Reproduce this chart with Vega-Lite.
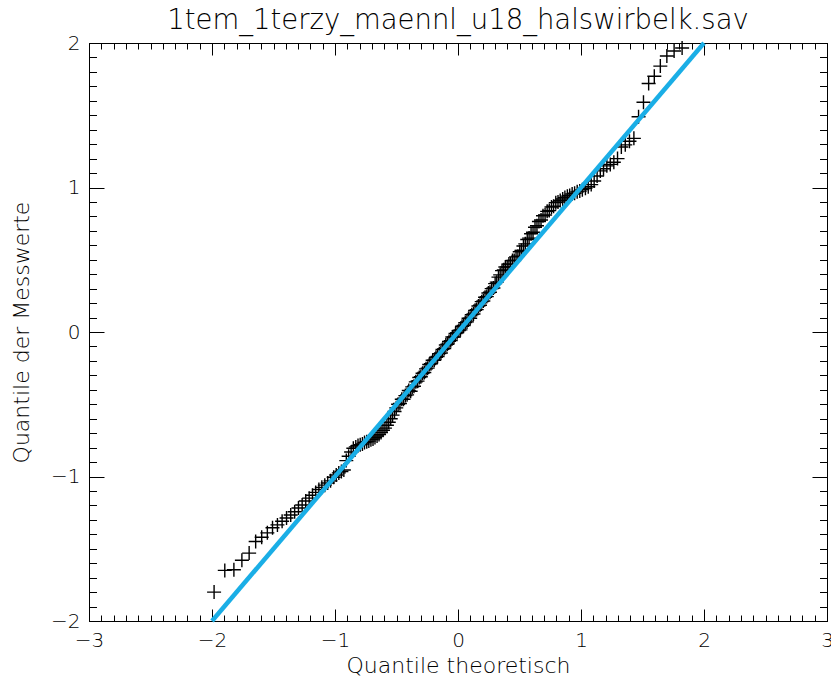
{
  "$schema": "https://vega.github.io/schema/vega-lite/v6.json",
  "width": 738,
  "height": 578,
  "autosize": {"type": "none"},
  "padding": {"left": 89, "top": 43, "right": 4, "bottom": 59},
  "background": "white",
  "title": {"text": "1tem_1terzy_maennl_u18_halswirbelk.sav", "fontSize": 27.5, "font": "DejaVu Sans", "fontWeight": 200, "color": "black", "offset": 15, "baseline": "alphabetic", "anchor": "middle", "frame": "group", "dy": 38},
  "config": {
    "view": {"stroke": "black", "strokeWidth": 1},
    "axis": {"grid": false, "minExtent": 0, "domainColor": "black", "domainWidth": 1, "tickColor": "black", "tickWidth": 1, "labelColor": "black", "labelFont": "DejaVu Sans", "labelFontWeight": 200, "labelFontSize": 20, "titleFont": "DejaVu Sans", "titleFontWeight": 200, "titleFontSize": 22, "titleColor": "black", "labelFlush": false, "labelOverlap": false}
  },
  "layer": [
    {
      "data": {"values": [
        {"theo": -1.983, "mess": -1.80}, {"theo": -1.896, "mess": -1.65}, {"theo": -1.822, "mess": -1.645}, {"theo": -1.757, "mess": -1.58}, {"theo": -1.698, "mess": -1.53},
        {"theo": -1.645, "mess": -1.45}, {"theo": -1.596, "mess": -1.42}, {"theo": -1.550, "mess": -1.39}, {"theo": -1.508, "mess": -1.355}, {"theo": -1.468, "mess": -1.335},
        {"theo": -1.430, "mess": -1.31}, {"theo": -1.394, "mess": -1.287}, {"theo": -1.360, "mess": -1.266}, {"theo": -1.328, "mess": -1.244}, {"theo": -1.297, "mess": -1.218},
        {"theo": -1.267, "mess": -1.197}, {"theo": -1.238, "mess": -1.17}, {"theo": -1.210, "mess": -1.15}, {"theo": -1.183, "mess": -1.13}, {"theo": -1.157, "mess": -1.11},
        {"theo": -1.131, "mess": -1.09}, {"theo": -1.107, "mess": -1.075}, {"theo": -1.083, "mess": -1.06}, {"theo": -1.059, "mess": -1.045}, {"theo": -1.036, "mess": -1.03},
        {"theo": -1.011, "mess": -1.005}, {"theo": -0.990, "mess": -0.99}, {"theo": -0.969, "mess": -0.975}, {"theo": -0.948, "mess": -0.965}, {"theo": -0.928, "mess": -0.955},
        {"theo": -0.908, "mess": -0.89}, {"theo": -0.889, "mess": -0.86}, {"theo": -0.869, "mess": -0.83}, {"theo": -0.851, "mess": -0.805}, {"theo": -0.831, "mess": -0.795},
        {"theo": -0.813, "mess": -0.785}, {"theo": -0.795, "mess": -0.78}, {"theo": -0.777, "mess": -0.775}, {"theo": -0.760, "mess": -0.765}, {"theo": -0.742, "mess": -0.76},
        {"theo": -0.725, "mess": -0.755}, {"theo": -0.708, "mess": -0.745}, {"theo": -0.691, "mess": -0.74}, {"theo": -0.675, "mess": -0.73}, {"theo": -0.658, "mess": -0.72},
        {"theo": -0.642, "mess": -0.71}, {"theo": -0.626, "mess": -0.695}, {"theo": -0.610, "mess": -0.68}, {"theo": -0.594, "mess": -0.665}, {"theo": -0.578, "mess": -0.645},
        {"theo": -0.563, "mess": -0.625}, {"theo": -0.547, "mess": -0.60}, {"theo": -0.532, "mess": -0.575}, {"theo": -0.516, "mess": -0.55}, {"theo": -0.502, "mess": -0.525},
        {"theo": -0.487, "mess": -0.50}, {"theo": -0.472, "mess": -0.495}, {"theo": -0.457, "mess": -0.465}, {"theo": -0.443, "mess": -0.465}, {"theo": -0.428, "mess": -0.44},
        {"theo": -0.414, "mess": -0.435}, {"theo": -0.400, "mess": -0.405}, {"theo": -0.385, "mess": -0.41}, {"theo": -0.372, "mess": -0.38}, {"theo": -0.358, "mess": -0.375},
        {"theo": -0.343, "mess": -0.345}, {"theo": -0.329, "mess": -0.34}, {"theo": -0.315, "mess": -0.315}, {"theo": -0.302, "mess": -0.31}, {"theo": -0.288, "mess": -0.285},
        {"theo": -0.274, "mess": -0.28}, {"theo": -0.260, "mess": -0.255}, {"theo": -0.247, "mess": -0.25}, {"theo": -0.234, "mess": -0.225}, {"theo": -0.220, "mess": -0.22},
        {"theo": -0.206, "mess": -0.195}, {"theo": -0.193, "mess": -0.195}, {"theo": -0.179, "mess": -0.175}, {"theo": -0.166, "mess": -0.17}, {"theo": -0.152, "mess": -0.15},
        {"theo": -0.139, "mess": -0.145}, {"theo": -0.126, "mess": -0.12}, {"theo": -0.112, "mess": -0.115}, {"theo": -0.099, "mess": -0.09}, {"theo": -0.086, "mess": -0.085},
        {"theo": -0.073, "mess": -0.065}, {"theo": -0.059, "mess": -0.06}, {"theo": -0.046, "mess": -0.035}, {"theo": -0.033, "mess": -0.035}, {"theo": -0.020, "mess": -0.01},
        {"theo": -0.007, "mess": -0.005},
        {"theo": 0.007, "mess": 0.01}, {"theo": 0.020, "mess": 0.015}, {"theo": 0.033, "mess": 0.04}, {"theo": 0.046, "mess": 0.045}, {"theo": 0.059, "mess": 0.065},
        {"theo": 0.073, "mess": 0.07}, {"theo": 0.086, "mess": 0.095}, {"theo": 0.099, "mess": 0.095}, {"theo": 0.112, "mess": 0.12}, {"theo": 0.126, "mess": 0.125},
        {"theo": 0.139, "mess": 0.15}, {"theo": 0.152, "mess": 0.155}, {"theo": 0.166, "mess": 0.18}, {"theo": 0.179, "mess": 0.185}, {"theo": 0.193, "mess": 0.21},
        {"theo": 0.206, "mess": 0.215}, {"theo": 0.220, "mess": 0.24}, {"theo": 0.234, "mess": 0.245}, {"theo": 0.247, "mess": 0.27}, {"theo": 0.260, "mess": 0.275},
        {"theo": 0.274, "mess": 0.30}, {"theo": 0.288, "mess": 0.305}, {"theo": 0.302, "mess": 0.335}, {"theo": 0.315, "mess": 0.345}, {"theo": 0.329, "mess": 0.38},
        {"theo": 0.343, "mess": 0.395}, {"theo": 0.358, "mess": 0.425}, {"theo": 0.372, "mess": 0.43}, {"theo": 0.385, "mess": 0.45}, {"theo": 0.400, "mess": 0.45},
        {"theo": 0.414, "mess": 0.47}, {"theo": 0.428, "mess": 0.47}, {"theo": 0.443, "mess": 0.495}, {"theo": 0.457, "mess": 0.495}, {"theo": 0.472, "mess": 0.52},
        {"theo": 0.487, "mess": 0.525}, {"theo": 0.502, "mess": 0.555}, {"theo": 0.516, "mess": 0.565}, {"theo": 0.532, "mess": 0.595}, {"theo": 0.547, "mess": 0.61},
        {"theo": 0.563, "mess": 0.64}, {"theo": 0.578, "mess": 0.65}, {"theo": 0.594, "mess": 0.68}, {"theo": 0.610, "mess": 0.69}, {"theo": 0.626, "mess": 0.725},
        {"theo": 0.642, "mess": 0.735}, {"theo": 0.658, "mess": 0.765}, {"theo": 0.675, "mess": 0.775}, {"theo": 0.691, "mess": 0.805}, {"theo": 0.708, "mess": 0.81},
        {"theo": 0.725, "mess": 0.835}, {"theo": 0.742, "mess": 0.84}, {"theo": 0.760, "mess": 0.865}, {"theo": 0.777, "mess": 0.87}, {"theo": 0.795, "mess": 0.895},
        {"theo": 0.813, "mess": 0.90}, {"theo": 0.831, "mess": 0.91}, {"theo": 0.851, "mess": 0.92}, {"theo": 0.869, "mess": 0.93}, {"theo": 0.889, "mess": 0.94},
        {"theo": 0.908, "mess": 0.945}, {"theo": 0.928, "mess": 0.955}, {"theo": 0.948, "mess": 0.96}, {"theo": 0.969, "mess": 0.97}, {"theo": 0.990, "mess": 0.975},
        {"theo": 1.011, "mess": 0.985}, {"theo": 1.036, "mess": 0.995}, {"theo": 1.059, "mess": 1.005}, {"theo": 1.083, "mess": 1.02}, {"theo": 1.107, "mess": 1.045},
        {"theo": 1.131, "mess": 1.08}, {"theo": 1.157, "mess": 1.115}, {"theo": 1.183, "mess": 1.13}, {"theo": 1.210, "mess": 1.15}, {"theo": 1.238, "mess": 1.16},
        {"theo": 1.267, "mess": 1.175}, {"theo": 1.297, "mess": 1.20}, {"theo": 1.328, "mess": 1.28}, {"theo": 1.360, "mess": 1.295}, {"theo": 1.394, "mess": 1.32},
        {"theo": 1.430, "mess": 1.34}, {"theo": 1.468, "mess": 1.49}, {"theo": 1.508, "mess": 1.59}, {"theo": 1.550, "mess": 1.72}, {"theo": 1.596, "mess": 1.77},
        {"theo": 1.645, "mess": 1.84}, {"theo": 1.698, "mess": 1.91}, {"theo": 1.757, "mess": 1.945}, {"theo": 1.822, "mess": 1.965}
      ]},
      "mark": {"type": "point", "shape": "M-1,0H1M0,-1V1", "size": 196, "filled": false, "stroke": "black", "strokeWidth": 1.4, "opacity": 1},
      "encoding": {
        "x": {"field": "theo", "type": "quantitative", "scale": {"domain": [-3, 3], "nice": false, "zero": false},
          "axis": {"orient": "bottom", "tickCount": 60, "labelExpr": "datum.value % 1 === 0 ? format(datum.value, 'd') : ''",
            "tickSize": {"condition": {"test": "datum.value % 1 === 0", "value": -12}, "value": -6},
            "labelPadding": 21, "labelBaseline": "top", "title": "Quantile theoretisch", "titleY": 51, "titleBaseline": "alphabetic"}},
        "y": {"field": "mess", "type": "quantitative", "scale": {"domain": [-2, 2], "nice": false, "zero": false},
          "axis": {"orient": "left", "tickCount": 40, "labelExpr": "datum.value % 1 === 0 ? format(datum.value, 'd') : ''",
            "tickSize": {"condition": {"test": "datum.value % 1 === 0", "value": -15}, "value": -7.5},
            "labelPadding": 24, "labelBaseline": "middle", "title": "Quantile der Messwerte", "titleX": -61, "titleBaseline": "alphabetic", "titleAngle": 270}}
      }
    },
    {
      "data": {"values": [{"lx": -2, "ly": -2}, {"lx": 2, "ly": 2}]},
      "mark": {"type": "line", "color": "#1aaee6", "strokeWidth": 4.5},
      "encoding": {
        "x": {"field": "lx", "type": "quantitative", "scale": {"domain": [-3, 3], "nice": false, "zero": false},
          "axis": {"orient": "top", "tickCount": 60, "labels": false, "title": null,
            "tickSize": {"condition": {"test": "datum.value % 1 === 0", "value": -12}, "value": -6}}},
        "y": {"field": "ly", "type": "quantitative", "scale": {"domain": [-2, 2], "nice": false, "zero": false},
          "axis": {"orient": "right", "tickCount": 40, "labels": false, "title": null,
            "tickSize": {"condition": {"test": "datum.value % 1 === 0", "value": -15}, "value": -7.5}}}
      }
    }
  ],
  "resolve": {"axis": {"x": "independent", "y": "independent"}}
}
